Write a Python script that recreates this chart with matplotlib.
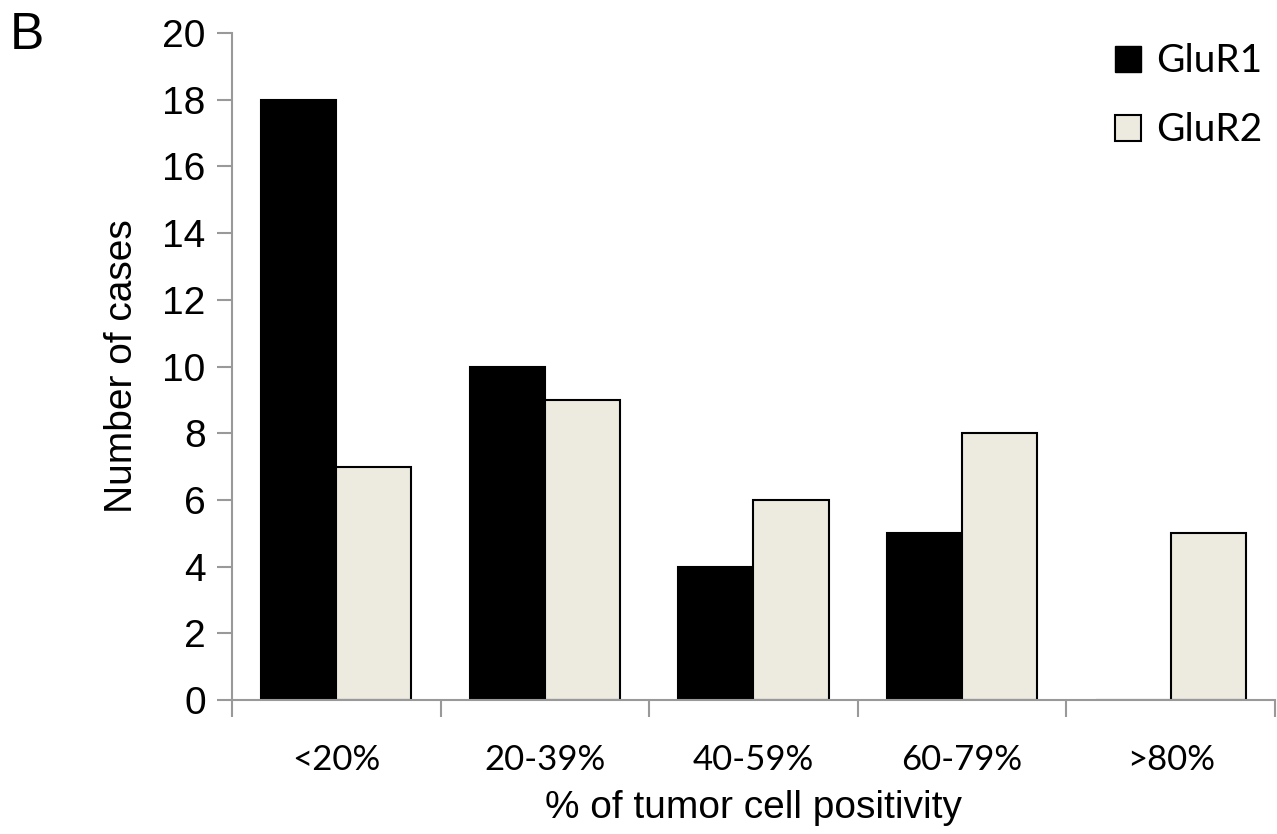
import numpy as np
import matplotlib
matplotlib.use("Agg")
import matplotlib.pyplot as plt
from matplotlib.patches import Patch

categories = ["<20%", "20-39%", "40-59%", "60-79%", ">80%"]
glur1 = [18, 10, 4, 5, 0]
glur2 = [7, 9, 6, 8, 5]

fig = plt.figure(figsize=(12.77, 8.34), dpi=100)
ax = fig.add_axes([0.1817, 0.1607, 0.8167, 0.7997])

x = np.arange(len(categories))
w = 0.36
ax.bar(x - w / 2, glur1, w, color="black", edgecolor="black", linewidth=1.5, label="GluR1")
ax.bar(x + w / 2, glur2, w, color="#edebe0", edgecolor="black", linewidth=1.5, label="GluR2")

ax.set_xlim(-0.5, len(categories) - 0.5)
ax.set_ylim(0, 20)
ax.set_yticks(range(0, 21, 2))
ax.tick_params(axis="y", labelsize=28, length=11, width=1.5, color="#999999", pad=8)
for t in ax.get_yticklabels():
    t.set_family("Liberation Sans")

# category labels centered, ticks at the boundaries
ax.set_xticks(x)
ax.set_xticklabels(categories, fontsize=25, family="Lato")
ax.tick_params(axis="x", which="major", length=0, pad=32)
ax.set_xticks(np.arange(-0.5, len(categories)), minor=True)
ax.tick_params(axis="x", which="minor", length=12, width=1.5, color="#999999")

for s in ["top", "right"]:
    ax.spines[s].set_visible(False)
for s in ["left", "bottom"]:
    ax.spines[s].set_color("#999999")
    ax.spines[s].set_linewidth(1.5)

ax.set_ylabel("Number of cases", fontsize=28, family="Liberation Sans", labelpad=16)
ax.set_xlabel("% of tumor cell positivity", fontsize=28, family="Liberation Sans", labelpad=10)

handles = [Patch(facecolor="black", edgecolor="black", label="GluR1"),
           Patch(facecolor="#edebe0", edgecolor="black", linewidth=1.5, label="GluR2")]
leg = fig.legend(handles=handles, loc="upper right", bbox_to_anchor=(1.016, 0.99),
                 frameon=False, prop={"family": "Lato", "size": 28},
                 handlelength=0.65, handleheight=0.65, handletextpad=0.4, labelspacing=0.85)

fig.text(0.008, 0.958, "B", fontsize=37, family="Liberation Sans", va="center", ha="left")

fig.savefig("out.png", dpi=100)
